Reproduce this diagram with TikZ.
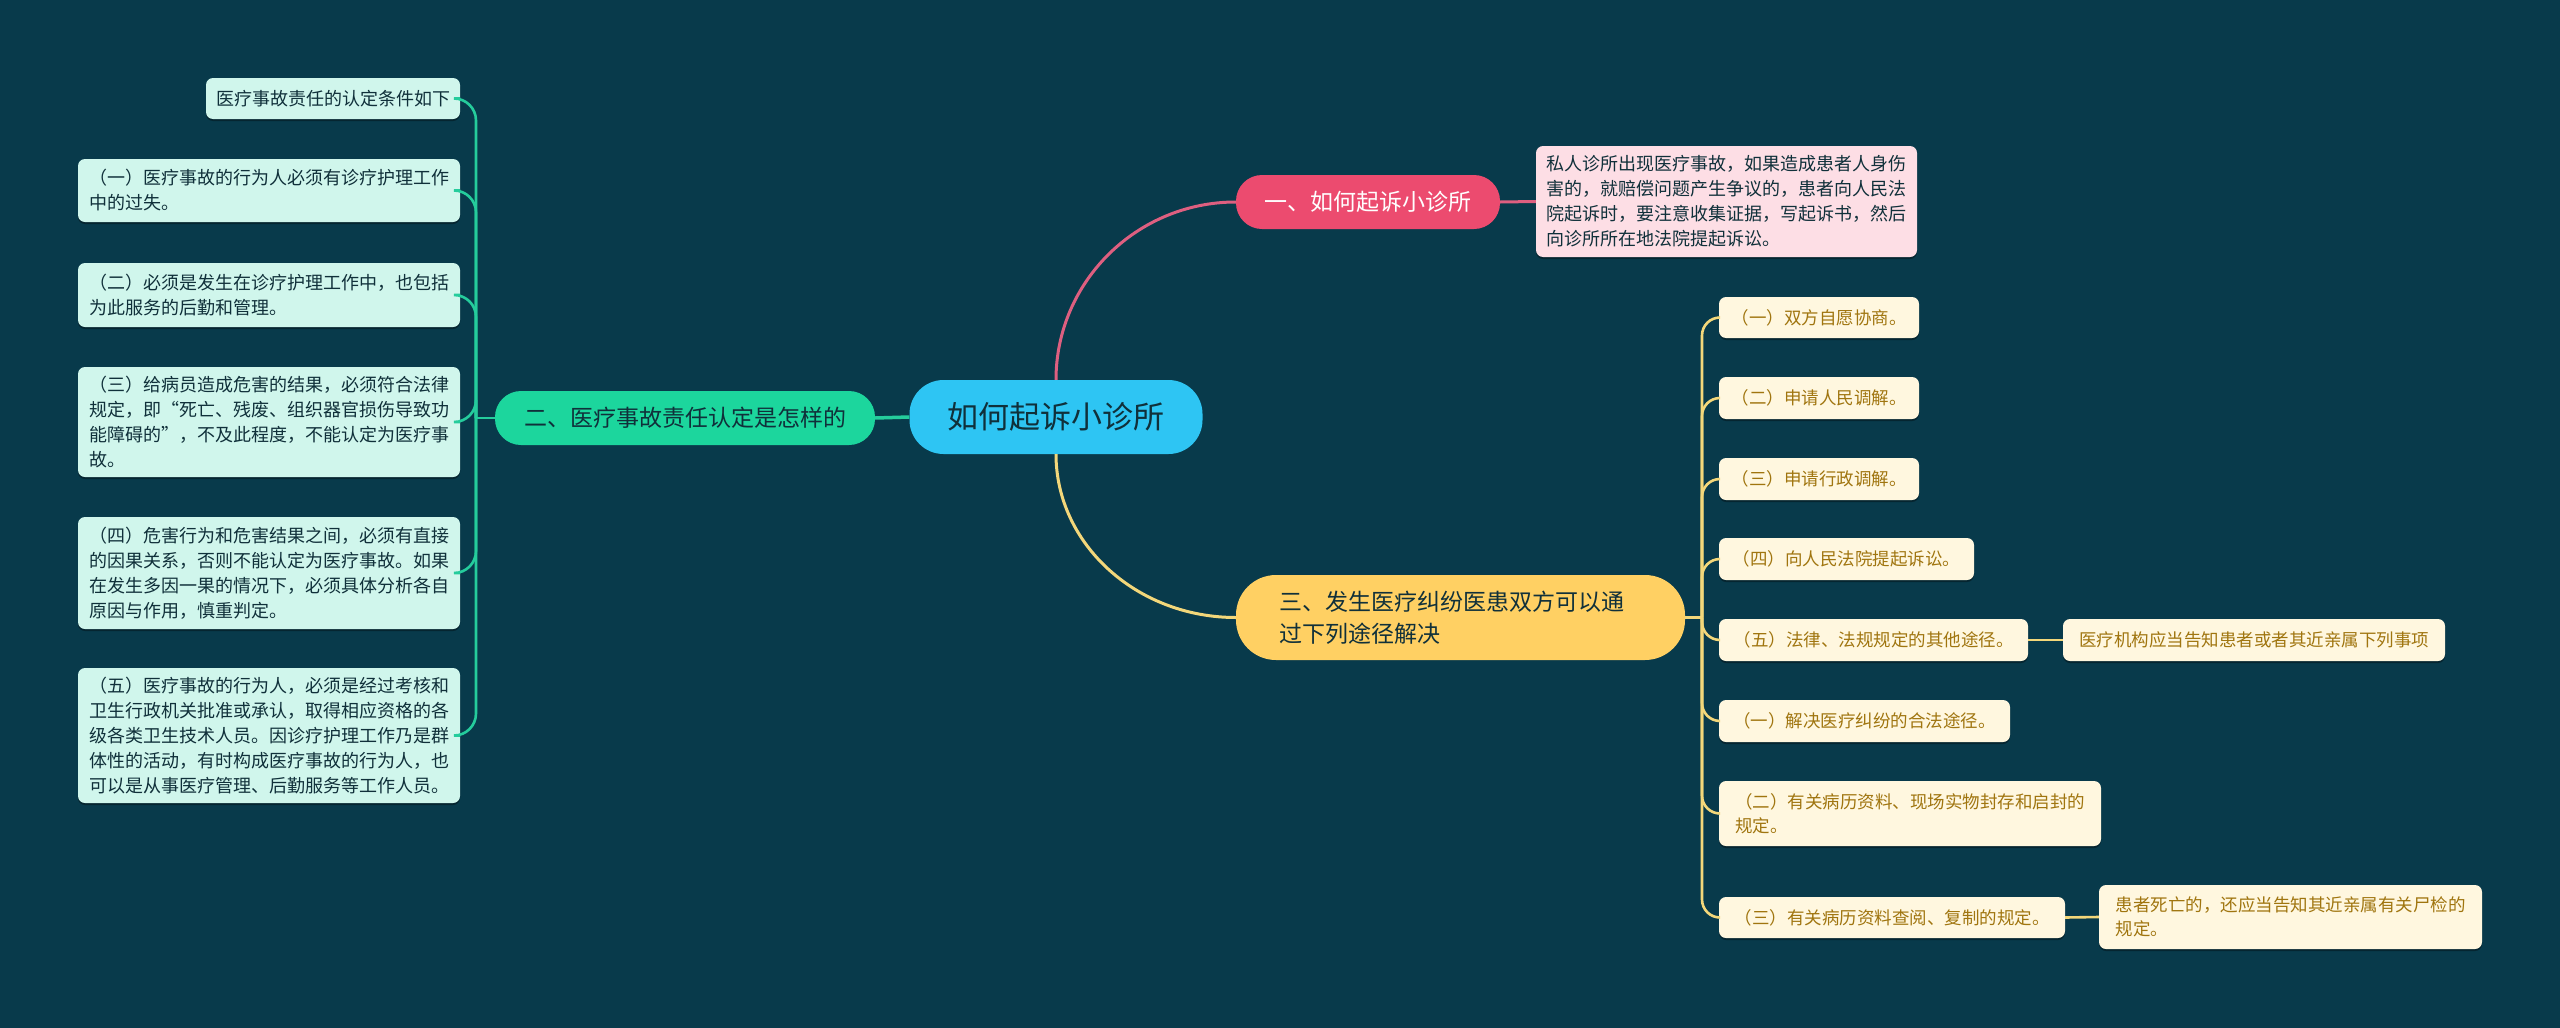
\documentclass[tikz,border=0pt]{standalone}
\usepackage{fontspec}
\setmainfont{Noto Sans CJK SC}
\usetikzlibrary{shadows}
\definecolor{bg}{HTML}{083A4B}
\definecolor{cblue}{HTML}{2EC5F3}
\definecolor{cpink}{HTML}{EC4B6F}
\definecolor{cpinkline}{HTML}{DE5F80}
\definecolor{cgreen}{HTML}{1CD69D}
\definecolor{cgreenline}{HTML}{25CC9C}
\definecolor{cyellow}{HTML}{FFD063}
\definecolor{cyellowline}{HTML}{F3D77A}
\definecolor{mint}{HTML}{D0F6EC}
\definecolor{pinknote}{HTML}{FDDEE5}
\definecolor{cream}{HTML}{FFF7DF}
\definecolor{goldtext}{HTML}{A0750F}
\definecolor{darktext}{HTML}{10303A}
\tikzset{
  base/.style={inner sep=0pt, align=left, anchor=center},
  central/.style={base, fill=cblue, rounded corners=34pt, text=darktext, font=\fontsize{31}{38}\selectfont},
  branchone/.style={base, fill=cpink, rounded corners=26pt, text=white, font=\fontsize{23}{30}\selectfont},
  branchtwo/.style={base, fill=cgreen, rounded corners=26pt, text=darktext, font=\fontsize{23}{30}\selectfont},
  branchthree/.style={base, fill=cyellow, rounded corners=40pt, text=darktext, font=\fontsize{23}{32}\selectfont},
  leafl/.style={base, fill=mint, rounded corners=7pt, text=darktext, font=\fontsize{18}{25}\selectfont,
     drop shadow={shadow xshift=0pt, shadow yshift=-2pt, opacity=0.35, fill=black}},
  notep/.style={base, fill=pinknote, rounded corners=7pt, text=darktext, font=\fontsize{18}{25}\selectfont,
     drop shadow={shadow xshift=0pt, shadow yshift=-2pt, opacity=0.35, fill=black}},
  leafr/.style={base, fill=cream, rounded corners=7pt, text=goldtext, font=\fontsize{17.5}{24}\selectfont,
     drop shadow={shadow xshift=0pt, shadow yshift=-2pt, opacity=0.35, fill=black}},
  sz/.style 2 args={minimum width=#1, minimum height=#2},
  lconn/.style={draw=cgreenline, line width=2.6pt, rounded corners=22pt},
  rconn/.style={draw=cyellowline, line width=2.6pt, rounded corners=18pt},
  mainpink/.style={draw=cpinkline, line width=3pt},
  mainyellow/.style={draw=cyellowline, line width=3pt},
  maingreen/.style={draw=cgreenline, line width=3.5pt},
}
\begin{document}
\begin{tikzpicture}[x=1pt,y=-1pt]
\path[fill=bg] (0,0) rectangle (2560,1028);
\useasboundingbox (0,0) rectangle (2560,1028);

\coordinate (t2) at (476,418);
\coordinate (t3) at (1702,617.5);

% central and branches
\node[central, sz={293pt}{74pt}] (c) at (1056,417) {如何起诉小诊所};
\node[branchone, sz={264pt}{54pt}] (b1) at (1368,202) {一、如何起诉小诊所};
\node[branchtwo, sz={380pt}{54pt}] (b2) at (685,418) {二、医疗事故责任认定是怎样的};
\node[branchthree, sz={449pt}{85pt}, text width=363pt] (b3) at (1460.5,617.5) {三、发生医疗纠纷医患双方可以通\\过下列途径解决};

\node[notep, sz={381pt}{111pt}] (n1) at (1726.5,201.5) {私人诊所出现医疗事故，如果造成患者人身伤\\害的，就赔偿问题产生争议的，患者向人民法\\院起诉时，要注意收集证据，写起诉书，然后\\向诊所所在地法院提起诉讼。};

% left leaves
\node[leafl, sz={254pt}{41pt}] (l0) at (333,98.5) {医疗事故责任的认定条件如下};
\node[leafl, sz={382pt}{63pt}] (l1) at (269,190.5) {（一）医疗事故的行为人必须有诊疗护理工作\\中的过失。};
\node[leafl, sz={382pt}{64pt}] (l2) at (269,295) {（二）必须是发生在诊疗护理工作中，也包括\\为此服务的后勤和管理。};
\node[leafl, sz={382pt}{110pt}] (l3) at (269,422) {（三）给病员造成危害的结果，必须符合法律\\规定，即“死亡、残废、组织器官损伤导致功\\能障碍的”，不及此程度，不能认定为医疗事\\故。};
\node[leafl, sz={382pt}{112pt}] (l4) at (269,573) {（四）危害行为和危害结果之间，必须有直接\\的因果关系，否则不能认定为医疗事故。如果\\在发生多因一果的情况下，必须具体分析各自\\原因与作用，慎重判定。};
\node[leafl, sz={382pt}{135pt}] (l5) at (269,735.5) {（五）医疗事故的行为人，必须是经过考核和\\卫生行政机关批准或承认，取得相应资格的各\\级各类卫生技术人员。因诊疗护理工作乃是群\\体性的活动，有时构成医疗事故的行为人，也\\可以是从事医疗管理、后勤服务等工作人员。};

% right leaves
\node[leafr, sz={200pt}{41pt}] (r1) at (1819,317.5) {（一）双方自愿协商。};
\node[leafr, sz={200pt}{42pt}] (r2) at (1819,398) {（二）申请人民调解。};
\node[leafr, sz={200pt}{42pt}] (r3) at (1819,479) {（三）申请行政调解。};
\node[leafr, sz={255pt}{42pt}] (r4) at (1846.5,559) {（四）向人民法院提起诉讼。};
\node[leafr, sz={309pt}{42pt}] (r5) at (1873.5,640) {（五）法律、法规规定的其他途径。};
\node[leafr, sz={382pt}{42pt}] (r5c) at (2254,640) {医疗机构应当告知患者或者其近亲属下列事项};
\node[leafr, sz={291pt}{42pt}] (r6) at (1864.5,721) {（一）解决医疗纠纷的合法途径。};
\node[leafr, sz={382pt}{65pt}] (r7) at (1910,813.5) {（二）有关病历资料、现场实物封存和启封的\\规定。};
\node[leafr, sz={346pt}{41pt}] (r8) at (1892,917.5) {（三）有关病历资料查阅、复制的规定。};
\node[leafr, sz={383pt}{64pt}] (r8c) at (2290.5,917) {患者死亡的，还应当告知其近亲属有关尸检的\\规定。};

% connectors
\draw[mainpink] (c.north) .. controls +(0,-98) and +(-99,0) .. (b1.west);
\draw[mainyellow] (c.south) .. controls +(0,90) and +(-99,0) .. (b3.west);
\draw[maingreen] (c.west) -- (b2.east);
\draw[mainpink] (b1.east) -- (n1.west);

\draw[lconn] (b2.west) -- (t2);
\foreach \n in {l0,l1,l2,l3,l4,l5} { \draw[lconn] (t2) |- (\n.east); }

\draw[rconn] (b3.east) -- (t3);
\foreach \n in {r1,r2,r3,r4,r5,r6,r7,r8} { \draw[rconn] (t3) |- (\n.west); }
\draw[rconn] (r5.east) -- (r5c.west);
\draw[rconn] (r8.east) -- (r8c.west);
\end{tikzpicture}
\end{document}
